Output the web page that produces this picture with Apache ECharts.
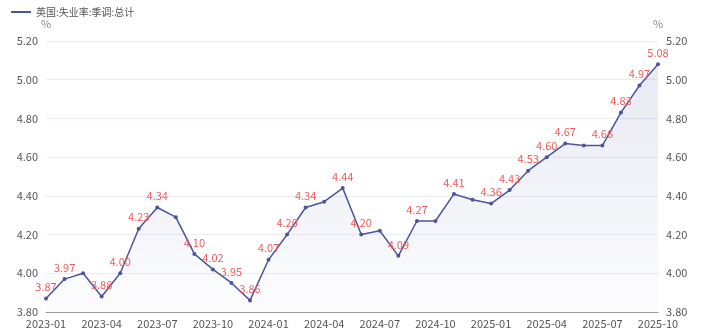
<!DOCTYPE html>
<html><head><meta charset="utf-8">
<script src="https://cdn.jsdelivr.net/npm/echarts@6/dist/echarts.min.js"></script>
<style>html,body{margin:0;padding:0;background:#fff}#c{width:703px;height:336px}</style>
</head><body><div id="c"></div>
<script>
var categories = ['2023-01','2023-02','2023-03','2023-04','2023-05','2023-06','2023-07','2023-08','2023-09','2023-10','2023-11','2023-12',
'2024-01','2024-02','2024-03','2024-04','2024-05','2024-06','2024-07','2024-08','2024-09','2024-10','2024-11','2024-12',
'2025-01','2025-02','2025-03','2025-04','2025-05','2025-06','2025-07','2025-08','2025-09','2025-10'];
var values = [3.87,3.97,4.00,3.88,4.00,4.23,4.34,4.29,4.10,4.02,3.95,3.86,
4.07,4.20,4.34,4.37,4.44,4.20,4.22,4.09,4.27,4.27,4.41,4.38,
4.36,4.43,4.53,4.60,4.67,4.66,4.66,4.83,4.97,5.08];
var seriesName = '英国:失业率:季调:总计';
var chart = echarts.init(document.getElementById('c'));
var font = 'Microsoft YaHei, "Noto Sans CJK SC", sans-serif';
var yAxisCommon = {
  type:'value', min:3.8, max:5.2, interval:0.2, name:'%',
  nameTextStyle:{color:'#888', fontSize:11, fontFamily:font},
  axisLine:{show:false}, axisTick:{show:false},
  axisLabel:{color:'#555', fontSize:11, fontFamily:font, formatter:function(v){return v.toFixed(2);}},
  splitLine:{lineStyle:{color:'#ececf4'}}
};
chart.setOption({
  animation:false,
  textStyle:{fontFamily:font},
  legend:{left:6, top:2, itemWidth:20, itemHeight:2, itemGap:4,
    textStyle:{color:'#555', fontSize:10, fontFamily:font},
    icon:'rect', data:[seriesName]},
  grid:{left:46, right:45, top:41, bottom:24},
  xAxis:{type:'category', data:categories, boundaryGap:false,
    axisLine:{lineStyle:{color:'#999'}}, axisTick:{show:false},
    axisLabel:{color:'#555', fontSize:11, fontFamily:font, interval:2, margin:6}},
  yAxis:[Object.assign({}, yAxisCommon, {position:'left', nameGap:12}),
         Object.assign({}, yAxisCommon, {position:'right', nameGap:12})],
  series:[{
    name:seriesName, type:'line', data:values,
    symbol:'circle', symbolSize:4,
    lineStyle:{color:'#4b559c', width:1.5},
    itemStyle:{color:'#4b559c'},
    areaStyle:{color:new echarts.graphic.LinearGradient(0,0,0,1,[{offset:0,color:'rgba(75,85,156,0.18)'},{offset:1,color:'rgba(75,85,156,0.02)'}])},
    label:{show:true, position:'top', color:'#f25a5a', fontSize:11, fontFamily:font, distance:4,
      formatter:function(p){return p.value.toFixed(2);}},
    labelLayout:{hideOverlap:true}
  }]
});
</script></body></html>
